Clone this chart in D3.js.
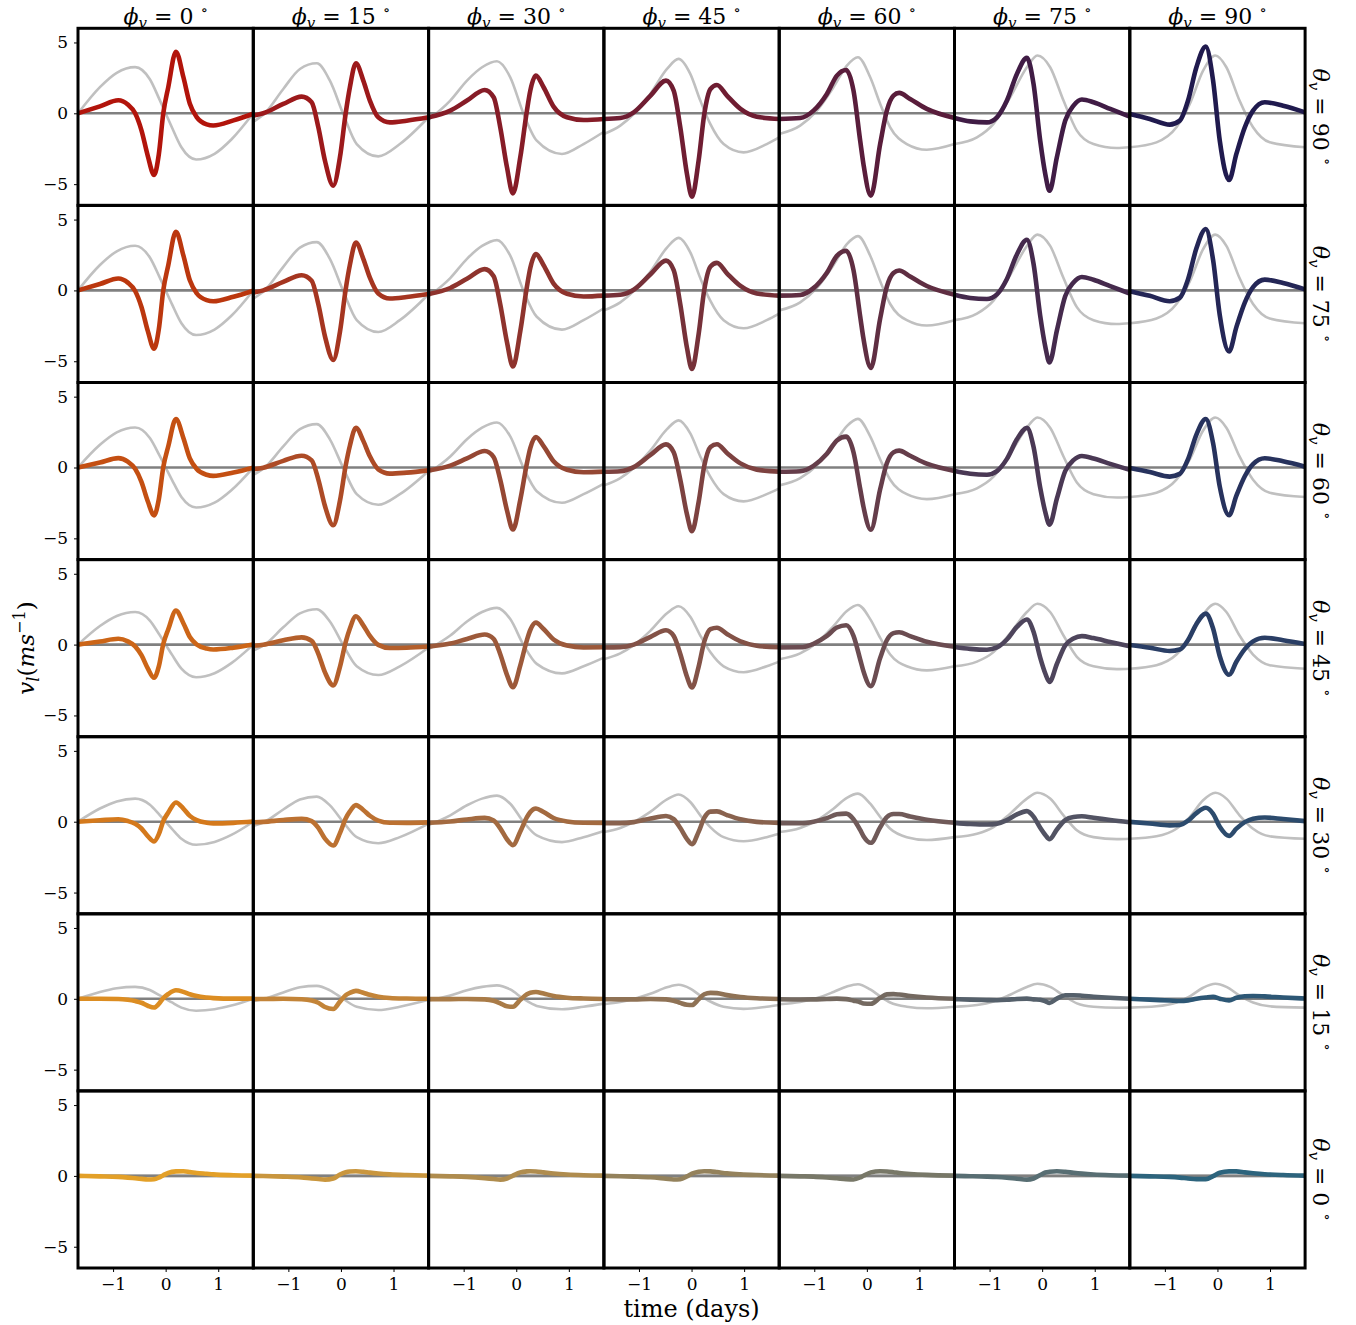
<!DOCTYPE html>
<html>
<head>
<meta charset="utf-8">
<script src="https://cdn.jsdelivr.net/npm/d3@7"></script>
<style>
body { margin: 0; background: #fff; }
text { font-family: "DejaVu Serif", serif; fill: #000; }
</style>
</head>
<body>
<svg id="chart" width="1356" height="1325"></svg>
<script>
var phiLabels = [0, 15, 30, 45, 60, 75, 90];
var thetaLabels = [90, 75, 60, 45, 30, 15, 0];
var xTicks = [-1, 0, 1];
var yTicks = [-5, 0, 5];

// times (days) where the coloured curves were read, one list per phi column
var curveTimes = [
  [-1.667, -1.25, -0.9, -0.72, -0.58, -0.46, -0.34, -0.22, -0.13, -0.045, 0.05, 0.196, 0.337, 0.46, 0.59, 0.78, 0.906, 1.29, 1.667],
  [-1.667, -1.477, -1.097, -0.747, -0.557, -0.43, -0.304, -0.146, -0.019, 0.09, 0.17, 0.285, 0.425, 0.55, 0.71, 0.93, 1.25, 1.667],
  [-1.667, -1.255, -0.937, -0.60, -0.43, -0.304, -0.177, -0.063, 0.077, 0.203, 0.267, 0.374, 0.52, 0.71, 0.964, 1.28, 1.667],
  [-1.667, -1.355, -1.10, -0.78, -0.486, -0.34, -0.214, -0.087, 0.008, 0.134, 0.242, 0.36, 0.483, 0.673, 0.93, 1.24, 1.667],
  [-1.667, -1.268, -1.015, -0.76, -0.57, -0.393, -0.254, -0.127, -0.064, 0.076, 0.253, 0.38, 0.506, 0.614, 0.823, 1.14, 1.667],
  [-1.667, -1.368, -1.05, -0.86, -0.67, -0.48, -0.29, -0.164, -0.037, 0.06, 0.14, 0.28, 0.438, 0.596, 0.756, 0.977, 1.294, 1.667],
  [-1.667, -1.287, -0.907, -0.717, -0.559, -0.4, -0.222, -0.083, 0.044, 0.221, 0.36, 0.52, 0.677, 0.9, 1.248, 1.667]
];

// v_l values of the coloured curves, one row of panels per theta
var curveTheta90 = [
  [0, 0.49, 0.92, 0.62, 0.0, -1.2, -3.0, -4.35, -2.9, 0, 1.85, 4.35, 2.56, 0.68, -0.27, -0.78, -0.86, -0.5, -0.03],
  [-0.16, 0, 0.66, 1.18, 0.78, -0.99, -3.35, -5.11, -3.1, 0, 1.84, 3.53, 2.31, 0.9, -0.28, -0.64, -0.52, -0.28],
  [-0.28, 0.19, 0.9, 1.65, 1.13, -0.99, -3.8, -5.65, -3.1, 0.19, 1.6, 2.66, 1.84, 0.47, -0.28, -0.47, -0.4],
  [-0.4, -0.33, 0.07, 1.25, 2.31, 1.6, -0.99, -4.29, -5.89, -3.35, -0.05, 1.72, 2.0, 1.25, 0.31, -0.24, -0.4],
  [-0.4, -0.33, 0.19, 1.37, 2.66, 3.06, 1.6, -1.93, -3.6, -5.82, -2.17, 0.19, 1.25, 1.44, 1.01, 0.31, -0.33],
  [-0.33, -0.57, -0.64, -0.28, 0.9, 2.78, 3.91, 2.07, -1.93, -4.3, -5.47, -3.1, -0.52, 0.54, 0.97, 0.78, 0.31, -0.24],
  [-0.05, -0.4, -0.8, -0.52, 0.9, 3.25, 4.71, 2.31, -1.93, -4.71, -2.87, -0.99, 0.19, 0.78, 0.54, 0.07]
];
var curveTheta75 = [
  [0, 0.45, 0.84, 0.55, -0.04, -1.17, -2.86, -4.12, -2.74, 0.01, 1.78, 4.14, 2.47, 0.71, -0.20, -0.69, -0.77, -0.45, -0.02],
  [-0.15, 0.00, 0.60, 1.07, 0.68, -0.98, -3.24, -4.91, -2.92, 0.07, 1.80, 3.38, 2.23, 0.90, -0.22, -0.57, -0.47, -0.26],
  [-0.26, 0.17, 0.82, 1.50, 1.00, -0.99, -3.64, -5.37, -2.88, 0.26, 1.58, 2.56, 1.78, 0.48, -0.24, -0.43, -0.37],
  [-0.37, -0.31, 0.05, 1.14, 2.10, 1.43, -0.98, -4.06, -5.55, -3.10, 0.04, 1.69, 1.94, 1.21, 0.32, -0.21, -0.37],
  [-0.37, -0.32, 0.16, 1.25, 2.44, 2.80, 1.43, -1.83, -3.41, -5.47, -1.99, 0.26, 1.23, 1.40, 0.98, 0.31, -0.30],
  [-0.31, -0.54, -0.61, -0.28, 0.81, 2.54, 3.58, 1.88, -1.79, -3.98, -5.08, -2.84, -0.41, 0.56, 0.95, 0.75, 0.30, -0.22],
  [-0.05, -0.38, -0.76, -0.52, 0.79, 2.97, 4.33, 2.15, -1.74, -4.31, -2.59, -0.86, 0.23, 0.76, 0.52, 0.07]
];
var curveTheta60 = [
  [0, 0.35, 0.66, 0.41, -0.09, -1.01, -2.38, -3.38, -2.24, 0.03, 1.50, 3.42, 2.09, 0.65, -0.10, -0.51, -0.59, -0.35, -0.01],
  [-0.12, -0.01, 0.47, 0.83, 0.50, -0.85, -2.72, -4.07, -2.35, 0.13, 1.54, 2.81, 1.88, 0.79, -0.13, -0.43, -0.36, -0.20],
  [-0.21, 0.13, 0.64, 1.16, 0.74, -0.87, -3.02, -4.38, -2.28, 0.30, 1.37, 2.15, 1.51, 0.44, -0.16, -0.33, -0.29],
  [-0.30, -0.26, 0.03, 0.89, 1.63, 1.08, -0.86, -3.31, -4.49, -2.45, 0.13, 1.45, 1.64, 1.03, 0.29, -0.15, -0.29],
  [-0.30, -0.26, 0.12, 0.97, 1.91, 2.18, 1.08, -1.50, -2.78, -4.39, -1.54, 0.30, 1.07, 1.19, 0.83, 0.27, -0.24],
  [-0.25, -0.44, -0.51, -0.25, 0.61, 1.99, 2.80, 1.46, -1.42, -3.15, -4.04, -2.20, -0.25, 0.52, 0.81, 0.64, 0.26, -0.17],
  [-0.04, -0.32, -0.64, -0.45, 0.59, 2.32, 3.42, 1.72, -1.35, -3.37, -1.99, -0.62, 0.24, 0.65, 0.44, 0.06]
];
var curveTheta45 = [
  [0, 0.22, 0.41, 0.23, -0.12, -0.75, -1.68, -2.34, -1.54, 0.04, 1.08, 2.40, 1.51, 0.54, 0.01, -0.28, -0.35, -0.22, 0],
  [-0.08, -0.01, 0.30, 0.51, 0.26, -0.65, -1.96, -2.88, -1.57, 0.18, 1.14, 2.00, 1.36, 0.61, -0.02, -0.24, -0.22, -0.13],
  [-0.14, 0.07, 0.40, 0.71, 0.41, -0.68, -2.13, -3.01, -1.47, 0.32, 1.03, 1.55, 1.10, 0.36, -0.07, -0.20, -0.19],
  [-0.20, -0.18, 0.00, 0.55, 1.01, 0.62, -0.66, -2.27, -3.03, -1.57, 0.21, 1.09, 1.19, 0.75, 0.23, -0.08, -0.19],
  [-0.20, -0.19, 0.06, 0.61, 1.21, 1.37, 0.62, -1.04, -1.89, -2.93, -0.95, 0.31, 0.81, 0.87, 0.60, 0.20, -0.15],
  [-0.17, -0.30, -0.36, -0.20, 0.36, 1.25, 1.77, 0.91, -0.92, -2.04, -2.63, -1.37, -0.06, 0.43, 0.60, 0.46, 0.19, -0.11],
  [-0.03, -0.22, -0.45, -0.35, 0.32, 1.46, 2.19, 1.14, -0.82, -2.13, -1.21, -0.32, 0.23, 0.48, 0.31, 0.05]
];
var curveTheta30 = [
  [0, 0.10, 0.17, 0.05, -0.15, -0.48, -1.02, -1.39, -0.88, 0.04, 0.65, 1.36, 0.93, 0.41, 0.11, -0.07, -0.12, -0.08, 0.01],
  [-0.04, -0.01, 0.12, 0.20, 0.04, -0.44, -1.19, -1.68, -0.81, 0.23, 0.73, 1.17, 0.83, 0.42, 0.08, -0.07, -0.08, -0.05],
  [-0.07, 0.02, 0.16, 0.27, 0.09, -0.47, -1.24, -1.65, -0.69, 0.32, 0.69, 0.93, 0.68, 0.26, 0.02, -0.07, -0.08],
  [-0.10, -0.10, -0.03, 0.23, 0.40, 0.18, -0.45, -1.23, -1.58, -0.72, 0.27, 0.71, 0.73, 0.47, 0.17, -0.01, -0.08],
  [-0.10, -0.11, 0.00, 0.25, 0.52, 0.57, 0.18, -0.58, -1.02, -1.49, -0.39, 0.32, 0.54, 0.54, 0.37, 0.14, -0.07],
  [-0.08, -0.16, -0.20, -0.14, 0.11, 0.52, 0.75, 0.36, -0.43, -0.94, -1.24, -0.55, 0.12, 0.33, 0.38, 0.28, 0.12, -0.04],
  [-0.01, -0.13, -0.26, -0.23, 0.07, 0.61, 0.98, 0.56, -0.36, -1.00, -0.49, -0.03, 0.21, 0.30, 0.19, 0.04]
];
var curveTheta15 = [
  [0, 0.00, -0.01, -0.07, -0.16, -0.28, -0.49, -0.61, -0.36, 0.05, 0.34, 0.60, 0.49, 0.32, 0.19, 0.09, 0.05, 0.01, 0.02],
  [-0.01, -0.01, 0.00, -0.03, -0.12, -0.28, -0.58, -0.72, -0.20, 0.25, 0.42, 0.56, 0.43, 0.28, 0.15, 0.06, 0.02, 0.00],
  [-0.02, -0.02, -0.01, -0.04, -0.14, -0.32, -0.53, -0.56, -0.07, 0.32, 0.43, 0.48, 0.37, 0.20, 0.08, 0.02, -0.01],
  [-0.03, -0.04, -0.04, -0.01, -0.04, -0.13, -0.29, -0.42, -0.44, -0.04, 0.32, 0.42, 0.40, 0.26, 0.13, 0.04, -0.01],
  [-0.03, -0.05, -0.04, -0.01, 0.01, -0.02, -0.13, -0.24, -0.33, -0.35, 0.07, 0.31, 0.33, 0.30, 0.20, 0.09, 0.00],
  [-0.02, -0.06, -0.09, -0.10, -0.07, -0.01, 0.01, -0.04, -0.07, -0.17, -0.29, 0.01, 0.25, 0.25, 0.22, 0.15, 0.07, 0.00],
  [0.00, -0.06, -0.12, -0.15, -0.11, 0.00, 0.09, 0.14, 0.01, -0.11, 0.07, 0.18, 0.20, 0.17, 0.09, 0.02]
];
var curveTheta0 = [
  [0, -0.03, -0.07, -0.12, -0.17, -0.21, -0.25, -0.23, -0.12, 0.05, 0.22, 0.32, 0.33, 0.28, 0.21, 0.15, 0.11, 0.05, 0.02],
  [0, -0.01, -0.05, -0.11, -0.18, -0.22, -0.26, -0.18, 0.10, 0.26, 0.31, 0.33, 0.29, 0.23, 0.17, 0.11, 0.06, 0.02],
  [0, -0.03, -0.07, -0.16, -0.22, -0.26, -0.18, 0.02, 0.25, 0.32, 0.33, 0.31, 0.25, 0.17, 0.10, 0.05, 0.02],
  [0, -0.02, -0.05, -0.10, -0.20, -0.25, -0.23, -0.03, 0.16, 0.29, 0.33, 0.32, 0.27, 0.18, 0.11, 0.06, 0.02],
  [0, -0.03, -0.05, -0.11, -0.17, -0.23, -0.25, -0.11, 0.01, 0.25, 0.33, 0.31, 0.26, 0.21, 0.14, 0.07, 0.02],
  [0, -0.02, -0.05, -0.08, -0.13, -0.20, -0.26, -0.18, 0.06, 0.24, 0.29, 0.33, 0.29, 0.22, 0.16, 0.10, 0.05, 0.02],
  [0, -0.03, -0.07, -0.12, -0.18, -0.23, -0.23, -0.02, 0.22, 0.32, 0.32, 0.25, 0.19, 0.12, 0.06, 0.02]
];

// times (days) where the grey reference curves were read
var greyTimes = [
  [-1.667, -1.25, -0.93, -0.58, -0.3, -0.12, 0, 0.12, 0.3, 0.58, 0.93, 1.25, 1.667],
  [-1.667, -1.45, -1.097, -0.78, -0.46, -0.21, 0.044, 0.30, 0.71, 1.12, 1.667],
  [-1.667, -1.255, -0.937, -0.65, -0.367, -0.114, 0.14, 0.39, 0.87, 1.28, 1.667],
  [-1.667, -1.355, -1.10, -0.785, -0.467, -0.247, -0.024, 0.166, 0.356, 0.61, 0.99, 1.43, 1.667],
  [-1.667, -1.268, -0.95, -0.635, -0.38, -0.17, 0.064, 0.254, 0.444, 0.76, 1.14, 1.667],
  [-1.667, -1.24, -0.925, -0.608, -0.29, -0.09, 0.152, 0.406, 0.66, 0.977, 1.42, 1.667],
  [-1.667, -1.16, -0.78, -0.526, -0.273, -0.04, 0.17, 0.42, 0.677, 0.994, 1.667]
];
var greyTheta90 = [
  [0, 1.85, 2.86, 3.26, 2.4, 1.0, 0, -1.0, -2.4, -3.26, -2.86, -1.85, 0],
  [-0.6, 0, 1.72, 3.13, 3.53, 2.3, -0.05, -2.17, -3.04, -2.17, -0.28],
  [-0.45, 0.9, 2.31, 3.25, 3.67, 2.54, -0.05, -1.93, -2.87, -2.17, -1.3],
  [-1.46, -0.87, -0.05, 1.37, 3.13, 3.84, 2.78, 0.9, -0.75, -2.17, -2.76, -2.17, -1.7],
  [-1.46, -0.87, 0.19, 1.84, 3.37, 3.96, 2.54, 0.66, -0.99, -2.17, -2.57, -2.17],
  [-2.17, -1.7, -0.75, 1.13, 3.25, 4.08, 3.25, 0.9, -1.22, -2.17, -2.45, -2.4],
  [-2.4, -2.05, -0.99, 0.66, 3.01, 4.08, 3.25, 0.9, -0.99, -2.05, -2.4]
];
var greyTheta75 = [
  [0, 1.79, 2.76, 3.15, 2.32, 0.97, 0, -0.97, -2.32, -3.15, -2.76, -1.79, 0],
  [-0.58, 0, 1.66, 3.02, 3.41, 2.22, -0.05, -2.10, -2.94, -2.10, -0.27],
  [-0.43, 0.87, 2.23, 3.14, 3.55, 2.45, -0.05, -1.86, -2.77, -2.10, -1.26],
  [-1.41, -0.84, -0.05, 1.32, 3.02, 3.71, 2.69, 0.87, -0.72, -2.10, -2.67, -2.10, -1.64],
  [-1.41, -0.84, 0.18, 1.78, 3.26, 3.83, 2.45, 0.64, -0.96, -2.10, -2.48, -2.10],
  [-2.10, -1.64, -0.72, 1.09, 3.14, 3.94, 3.14, 0.87, -1.18, -2.10, -2.37, -2.32],
  [-2.32, -1.98, -0.96, 0.64, 2.91, 3.94, 3.14, 0.87, -0.96, -1.98, -2.32]
];
var greyTheta60 = [
  [0, 1.60, 2.48, 2.82, 2.08, 0.87, 0, -0.87, -2.08, -2.82, -2.48, -1.60, 0],
  [-0.52, 0, 1.49, 2.71, 3.06, 1.99, -0.04, -1.88, -2.63, -1.88, -0.24],
  [-0.39, 0.78, 2.00, 2.81, 3.18, 2.20, -0.04, -1.67, -2.49, -1.88, -1.13],
  [-1.26, -0.75, -0.04, 1.19, 2.71, 3.33, 2.41, 0.78, -0.65, -1.88, -2.39, -1.88, -1.47],
  [-1.26, -0.75, 0.16, 1.59, 2.92, 3.43, 2.20, 0.57, -0.86, -1.88, -2.23, -1.88],
  [-1.88, -1.47, -0.65, 0.98, 2.81, 3.53, 2.81, 0.78, -1.06, -1.88, -2.12, -2.08],
  [-2.08, -1.78, -0.86, 0.57, 2.61, 3.53, 2.81, 0.78, -0.86, -1.78, -2.08]
];
var greyTheta45 = [
  [0, 1.31, 2.02, 2.30, 1.70, 0.71, 0, -0.71, -1.70, -2.30, -2.02, -1.31, 0],
  [-0.42, 0, 1.22, 2.21, 2.50, 1.63, -0.04, -1.53, -2.15, -1.53, -0.20],
  [-0.32, 0.64, 1.63, 2.30, 2.59, 1.80, -0.04, -1.36, -2.03, -1.53, -0.92],
  [-1.03, -0.62, -0.04, 0.97, 2.21, 2.71, 1.97, 0.64, -0.53, -1.53, -1.95, -1.53, -1.20],
  [-1.03, -0.62, 0.13, 1.30, 2.38, 2.80, 1.80, 0.47, -0.70, -1.53, -1.82, -1.53],
  [-1.53, -1.20, -0.53, 0.80, 2.30, 2.88, 2.30, 0.64, -0.86, -1.53, -1.73, -1.70],
  [-1.70, -1.45, -0.70, 0.47, 2.13, 2.88, 2.30, 0.64, -0.70, -1.45, -1.70]
];
var greyTheta30 = [
  [0, 0.93, 1.43, 1.63, 1.2, 0.5, 0, -0.5, -1.2, -1.63, -1.43, -0.93, 0],
  [-0.3, 0, 0.86, 1.57, 1.77, 1.15, -0.03, -1.09, -1.52, -1.09, -0.14],
  [-0.23, 0.45, 1.16, 1.63, 1.84, 1.27, -0.03, -0.97, -1.44, -1.09, -0.65],
  [-0.73, -0.44, -0.03, 0.69, 1.57, 1.92, 1.39, 0.45, -0.38, -1.09, -1.38, -1.09, -0.85],
  [-0.73, -0.44, 0.10, 0.92, 1.69, 1.98, 1.27, 0.33, -0.50, -1.09, -1.29, -1.09],
  [-1.09, -0.85, -0.38, 0.57, 1.63, 2.04, 1.63, 0.45, -0.61, -1.09, -1.23, -1.2],
  [-1.2, -1.03, -0.50, 0.33, 1.51, 2.04, 1.63, 0.45, -0.50, -1.03, -1.2]
];
var greyTheta15 = [
  [0, 0.48, 0.74, 0.84, 0.62, 0.26, 0, -0.26, -0.62, -0.84, -0.74, -0.48, 0],
  [-0.16, 0, 0.45, 0.81, 0.91, 0.60, -0.01, -0.56, -0.79, -0.56, -0.07],
  [-0.12, 0.23, 0.60, 0.84, 0.95, 0.66, -0.01, -0.50, -0.74, -0.56, -0.34],
  [-0.38, -0.23, -0.01, 0.35, 0.81, 0.99, 0.72, 0.23, -0.19, -0.56, -0.71, -0.56, -0.44],
  [-0.38, -0.23, 0.05, 0.48, 0.87, 1.03, 0.66, 0.17, -0.26, -0.56, -0.67, -0.56],
  [-0.56, -0.44, -0.19, 0.29, 0.84, 1.06, 0.84, 0.23, -0.32, -0.56, -0.63, -0.62],
  [-0.62, -0.53, -0.26, 0.17, 0.78, 1.06, 0.84, 0.23, -0.26, -0.53, -0.62]
];
var greyTheta0 = [
  [0, 0, 0, 0, 0, 0, 0, 0, 0, 0, 0, 0, 0],
  [0, 0, 0, 0, 0, 0, 0, 0, 0, 0, 0],
  [0, 0, 0, 0, 0, 0, 0, 0, 0, 0, 0],
  [0, 0, 0, 0, 0, 0, 0, 0, 0, 0, 0, 0, 0],
  [0, 0, 0, 0, 0, 0, 0, 0, 0, 0, 0, 0],
  [0, 0, 0, 0, 0, 0, 0, 0, 0, 0, 0, 0],
  [0, 0, 0, 0, 0, 0, 0, 0, 0, 0, 0]
];

var curveRows = [curveTheta90, curveTheta75, curveTheta60, curveTheta45, curveTheta30, curveTheta15, curveTheta0];
var greyRows = [greyTheta90, greyTheta75, greyTheta60, greyTheta45, greyTheta30, greyTheta15, greyTheta0];

// corner colours of the 2-d colour map (theta 90 / theta 0, phi 0 / phi 90)
var cornerTopLeft = "#b2140b", cornerTopRight = "#201a4e";
var cornerBottomLeft = "#e3a028", cornerBottomRight = "#2d647d";

var svg = d3.select("#chart");
var gridLeft = 78, gridTop = 28.3, panelW = 175.3, panelH = 177.1;
var nCols = phiLabels.length, nRows = thetaLabels.length;

var x = d3.scaleLinear().domain([-1.667, 1.667]).range([0, panelW]);
var y = d3.scaleLinear().domain([-6.5, 6.0]).range([panelH, 0]);

var line = d3.line()
  .x(function(d){ return x(d[0]); })
  .y(function(d){ return y(d[1]); })
  .curve(d3.curveMonotoneX);

function panelColour(r, c) {
  var topC = d3.interpolateLab(cornerTopLeft, cornerTopRight)(c / (nCols - 1));
  var botC = d3.interpolateLab(cornerBottomLeft, cornerBottomRight)(c / (nCols - 1));
  return d3.interpolateLab(topC, botC)(r / (nRows - 1));
}

for (var r = 0; r < nRows; r++) {
  for (var c = 0; c < nCols; c++) {
    var g = svg.append("g")
      .attr("transform", "translate(" + (gridLeft + c * panelW) + "," + (gridTop + r * panelH) + ")");

    g.append("path")
      .attr("fill", "none")
      .attr("stroke", "#c0c0c0")
      .attr("stroke-width", 2.6)
      .attr("d", line(d3.zip(greyTimes[c], greyRows[r][c])));

    g.append("line")
      .attr("x1", 0).attr("x2", panelW)
      .attr("y1", y(0)).attr("y2", y(0))
      .attr("stroke", "#808080")
      .attr("stroke-width", 2.6);

    g.append("path")
      .attr("fill", "none")
      .attr("stroke", panelColour(r, c))
      .attr("stroke-width", 4.6)
      .attr("stroke-linejoin", "round")
      .attr("d", line(d3.zip(curveTimes[c], curveRows[r][c])));

    if (c == 0) {
      var ya = g.append("g").call(d3.axisLeft(y).tickValues(yTicks).tickFormat(d3.format("d")).tickSize(4).tickPadding(6));
      ya.select(".domain").remove();
      ya.selectAll("text").attr("font-size", 17).attr("font-family", "DejaVu Serif");
    }
    if (r == nRows - 1) {
      var xa = g.append("g").attr("transform", "translate(0," + panelH + ")")
        .call(d3.axisBottom(x).tickValues(xTicks).tickFormat(d3.format("d")).tickSize(4).tickPadding(6));
      xa.select(".domain").remove();
      xa.selectAll("text").attr("font-size", 17).attr("font-family", "DejaVu Serif");
    }
  }
}

// frames on top
for (var r = 0; r < nRows; r++) {
  for (var c = 0; c < nCols; c++) {
    svg.append("rect")
      .attr("x", gridLeft + c * panelW).attr("y", gridTop + r * panelH)
      .attr("width", panelW).attr("height", panelH)
      .attr("fill", "none").attr("stroke", "#000").attr("stroke-width", 3);
  }
}

// math style label: sym_v = value°
function angleLabel(t, sym, value) {
  t.append("tspan").attr("font-style", "italic").text(sym);
  t.append("tspan").attr("font-style", "italic").attr("font-size", 15).attr("dy", 4).text("v");
  t.append("tspan").attr("dy", -4).text(" = " + value + " ");
  t.append("tspan").attr("font-size", 15).attr("dy", -9).text("∘");
}

// column titles
phiLabels.forEach(function(p, c) {
  var t = svg.append("text")
    .attr("x", gridLeft + (c + 0.5) * panelW).attr("y", 23.5)
    .attr("text-anchor", "middle").attr("font-size", 22);
  angleLabel(t, "ϕ", p);
});

// row labels on the right
thetaLabels.forEach(function(th, r) {
  var t = svg.append("text")
    .attr("transform", "translate(1313," + (gridTop + (r + 0.5) * panelH) + ") rotate(90)")
    .attr("text-anchor", "middle").attr("font-size", 22);
  angleLabel(t, "θ", th);
});

// y label
var yl = svg.append("text")
  .attr("transform", "translate(34,648) rotate(-90)")
  .attr("text-anchor", "middle").attr("font-size", 23);
yl.append("tspan").attr("font-style", "italic").text("v");
yl.append("tspan").attr("font-style", "italic").attr("font-size", 16).attr("dy", 5).text("l");
yl.append("tspan").attr("dy", -5).text("(");
yl.append("tspan").attr("font-style", "italic").text("ms");
yl.append("tspan").attr("font-size", 16).attr("dy", -9).text("−1");
yl.append("tspan").attr("dy", 9).text(")");

// x label
svg.append("text")
  .attr("x", gridLeft + 3.5 * panelW).attr("y", 1317)
  .attr("text-anchor", "middle").attr("font-size", 24)
  .text("time (days)");
</script>
</body>
</html>
